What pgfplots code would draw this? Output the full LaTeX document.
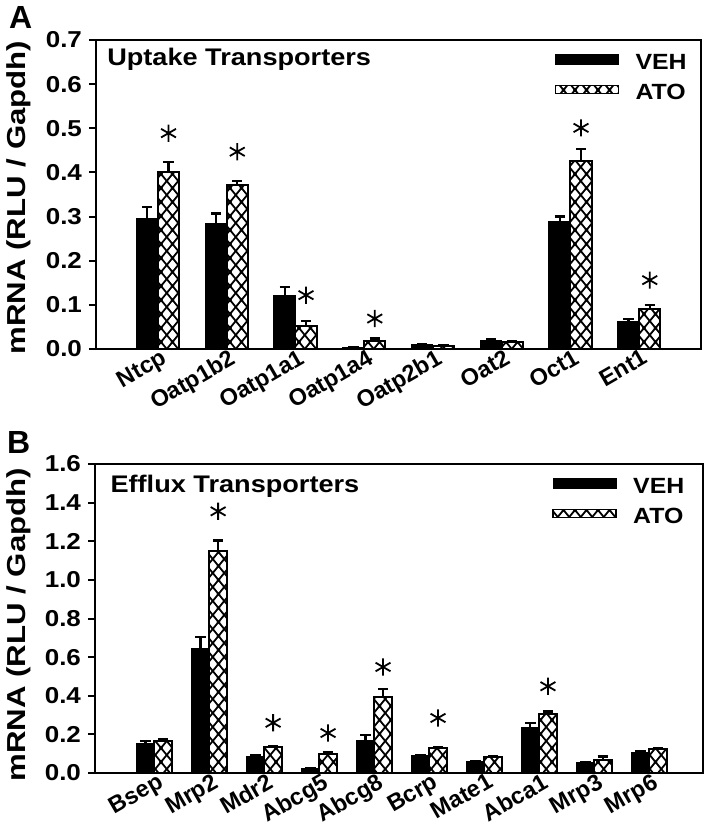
\documentclass[border=0pt]{standalone}
\usepackage{fontspec}
\setmainfont{Liberation Sans}
\newfontfamily\ylabfont{Liberation Sans}[FakeStretch=1.2]
\newfontfamily\wfont{Liberation Sans}[FakeStretch=1.13]
\usepackage{pgfplots}
\pgfplotsset{compat=1.18}
\usetikzlibrary{patterns}

\pgfdeclarepatternformonly{xhatch}{\pgfqpoint{-1pt}{-1pt}}{\pgfqpoint{6.75pt}{8pt}}{\pgfqpoint{5.75pt}{7pt}}{%
  \pgfsetlinewidth{0.9pt}%
  \pgfpathmoveto{\pgfqpoint{-0.575pt}{-0.7pt}}\pgfpathlineto{\pgfqpoint{6.325pt}{7.7pt}}%
  \pgfpathmoveto{\pgfqpoint{-0.575pt}{7.7pt}}\pgfpathlineto{\pgfqpoint{6.325pt}{-0.7pt}}%
  \pgfusepath{stroke}}

\pgfplotsset{
  mybase/.style={
    scale only axis, height=154.5pt, ymin=0, clip=false,
    axis line style={line width=1pt},
    ytick pos=left, xtick pos=bottom,
    tick align=outside, major tick length=3.5pt,
    ytick style={line width=1pt, black},
    xtick style={draw=none},
    /pgf/number format/assume math mode=true,
    yticklabel style={/pgf/number format/fixed, /pgf/number format/fixed zerofill, /pgf/number format/precision=1,
      font=\wfont\fontsize{11.5pt}{12pt}\selectfont\bfseries},
    xticklabel style={rotate=30, anchor=north east, inner sep=0.5pt, xshift=3.5pt, yshift=3.5pt,
      font=\fontsize{11.7pt}{12pt}\selectfont\bfseries},
    legend style={draw=none, fill=none, inner sep=0pt, row sep=6.5pt,
      font=\wfont\fontsize{11pt}{12pt}\selectfont\bfseries,
      nodes={inner sep=0pt, text height=8.5pt, text depth=0pt}},
    legend cell align=left,
  },
  errb/.style={draw=none, mark=none, forget plot,
    error bars/y dir=plus, error bars/y explicit,
    error bars/error bar style={draw=black, solid, line width=1.1pt},
    error bars/error mark options={rotate=90, draw=black, solid, line width=1.1pt, mark size=2.6pt}},
  veh/.style={ybar, bar width=#1, fill=black, draw=black, line width=0.6pt, forget plot},
  ato/.style={ybar, bar width=#1, fill=white, draw=black, line width=1pt, postaction={pattern=xhatch}, forget plot},
  star/.style={only marks, mark=asterisk, mark size=4.3pt, mark options={line width=0.9pt, black}, forget plot},
  vehleg/.style={legend image code/.code={\fill[black] (0pt,-2pt) rectangle (31.5pt,3pt); \path[draw=none, fill=none] (0pt,0pt) -- (40pt,0pt);}},
  atoleg/.style={legend image code/.code={\draw[black, line width=0.8pt, fill=white, postaction={pattern=xhatch}] (0pt,-1.5pt) rectangle (31.5pt,2.5pt); \path[draw=none, fill=none] (0pt,0pt) -- (40pt,0pt);}},
}

\begin{document}
\begin{tikzpicture}
\useasboundingbox (0,0) rectangle (354pt,-416pt);

% ---------------- Panel A ----------------
\begin{axis}[mybase,
  at={(48pt,-174.5pt)}, anchor=south west,
  width=302.5pt,
  xmin=-0.9, xmax=7.9, ymax=0.7,
  ytick={0,0.1,...,0.7},
  xtick={0,...,7},
  xticklabels={Ntcp,Oatp1b2,Oatp1a1,Oatp1a4,Oatp2b1,Oat2,Oct1,Ent1},
  legend style={at={(0.977,0.962)}, anchor=north east},
]
\addlegendimage{vehleg}
\addlegendentry{VEH}
\addlegendimage{atoleg}
\addlegendentry{ATO}

% VEH bars and error bars
\addplot[bar shift=-0.155, veh=0.31] coordinates {
 (0,0.296) (1,0.284) (2,0.120) (3,0.004) (4,0.009) (5,0.020) (6,0.289) (7,0.062)
};
\addplot[errb] coordinates {
 (-0.155,0.296) +- (0,0.026)
 (0.845,0.284) +- (0,0.023)
 (1.845,0.120) +- (0,0.020)
 (2.845,0.004) +- (0,0.000)
 (3.845,0.009) +- (0,0.001)
 (4.845,0.020) +- (0,0.002)
 (5.845,0.289) +- (0,0.011)
 (6.845,0.062) +- (0,0.006)
};
% ATO bars and error bars
\addplot[bar shift=0.155, ato=0.31] coordinates {
 (0,0.400) (1,0.371) (2,0.052) (3,0.019) (4,0.007) (5,0.017) (6,0.427) (7,0.090)
};
\addplot[errb] coordinates {
 (0.155,0.400) +- (0,0.024)
 (1.155,0.371) +- (0,0.010)
 (2.155,0.052) +- (0,0.011)
 (3.155,0.019) +- (0,0.005)
 (4.155,0.007) +- (0,0.001)
 (5.155,0.017) +- (0,0.001)
 (6.155,0.427) +- (0,0.026)
 (7.155,0.090) +- (0,0.010)
};
\addplot[star] coordinates {
 (0.155,0.489) (1.155,0.447) (2.155,0.122) (3.155,0.069) (6.155,0.501) (7.155,0.156)
};
\node[anchor=base west, inner sep=0pt, font=\wfont\fontsize{12pt}{13pt}\selectfont\bfseries] at (axis description cs:0.018,0.919) {Uptake Transporters};
\node[rotate=90, anchor=center, font=\ylabfont\fontsize{13pt}{14pt}\selectfont\bfseries] at (axis description cs:-0.127,0.49) {mRNA (RLU / Gapdh)};
\end{axis}

% ---------------- Panel B ----------------
\begin{axis}[mybase,
  at={(47.5pt,-386.5pt)}, anchor=south west,
  width=304pt,
  xmin=-1.08, xmax=9.98, ymax=1.6,
  ytick={0,0.2,...,1.6},
  xtick={0,...,9},
  xticklabels={Bsep,Mrp2,Mdr2,Abcg5,Abcg8,Bcrp,Mate1,Abca1,Mrp3,Mrp6},
  legend style={at={(0.97,0.962)}, anchor=north east},
]
\addlegendimage{vehleg}
\addlegendentry{VEH}
\addlegendimage{atoleg}
\addlegendentry{ATO}

\addplot[bar shift=-0.16, veh=0.32] coordinates {
 (0,0.152) (1,0.642) (2,0.086) (3,0.021) (4,0.166) (5,0.090) (6,0.057) (7,0.235) (8,0.052) (9,0.107)
};
\addplot[errb] coordinates {
 (-0.16,0.152) +- (0,0.012)
 (0.84,0.642) +- (0,0.062)
 (1.84,0.086) +- (0,0.007)
 (2.84,0.021) +- (0,0.002)
 (3.84,0.166) +- (0,0.029)
 (4.84,0.090) +- (0,0.004)
 (5.84,0.057) +- (0,0.003)
 (6.84,0.235) +- (0,0.024)
 (7.84,0.052) +- (0,0.005)
 (8.84,0.107) +- (0,0.005)
};
\addplot[bar shift=0.16, ato=0.32] coordinates {
 (0,0.164) (1,1.148) (2,0.135) (3,0.100) (4,0.392) (5,0.129) (6,0.083) (7,0.307) (8,0.069) (9,0.123)
};
\addplot[errb] coordinates {
 (0.16,0.164) +- (0,0.012)
 (1.16,1.148) +- (0,0.056)
 (2.16,0.135) +- (0,0.005)
 (3.16,0.100) +- (0,0.007)
 (4.16,0.392) +- (0,0.041)
 (5.16,0.129) +- (0,0.006)
 (6.16,0.083) +- (0,0.007)
 (7.16,0.307) +- (0,0.012)
 (8.16,0.069) +- (0,0.017)
 (9.16,0.123) +- (0,0.006)
};
\addplot[star] coordinates {
 (1.16,1.355) (2.16,0.26) (3.16,0.207) (4.16,0.549) (5.16,0.285) (7.16,0.449)
};
\node[anchor=base west, inner sep=0pt, font=\wfont\fontsize{12pt}{13pt}\selectfont\bfseries] at (axis description cs:0.025,0.909) {Efflux Transporters};
\node[rotate=90, anchor=center, font=\ylabfont\fontsize{13pt}{14pt}\selectfont\bfseries] at (axis description cs:-0.125,0.48) {mRNA (RLU / Gapdh)};
\end{axis}

\node[anchor=base west, font=\fontsize{16pt}{17pt}\selectfont\bfseries] at (1pt,-14pt) {A};
\node[anchor=base west, font=\fontsize{16pt}{17pt}\selectfont\bfseries] at (0pt,-226.5pt) {B};
\end{tikzpicture}
\end{document}
